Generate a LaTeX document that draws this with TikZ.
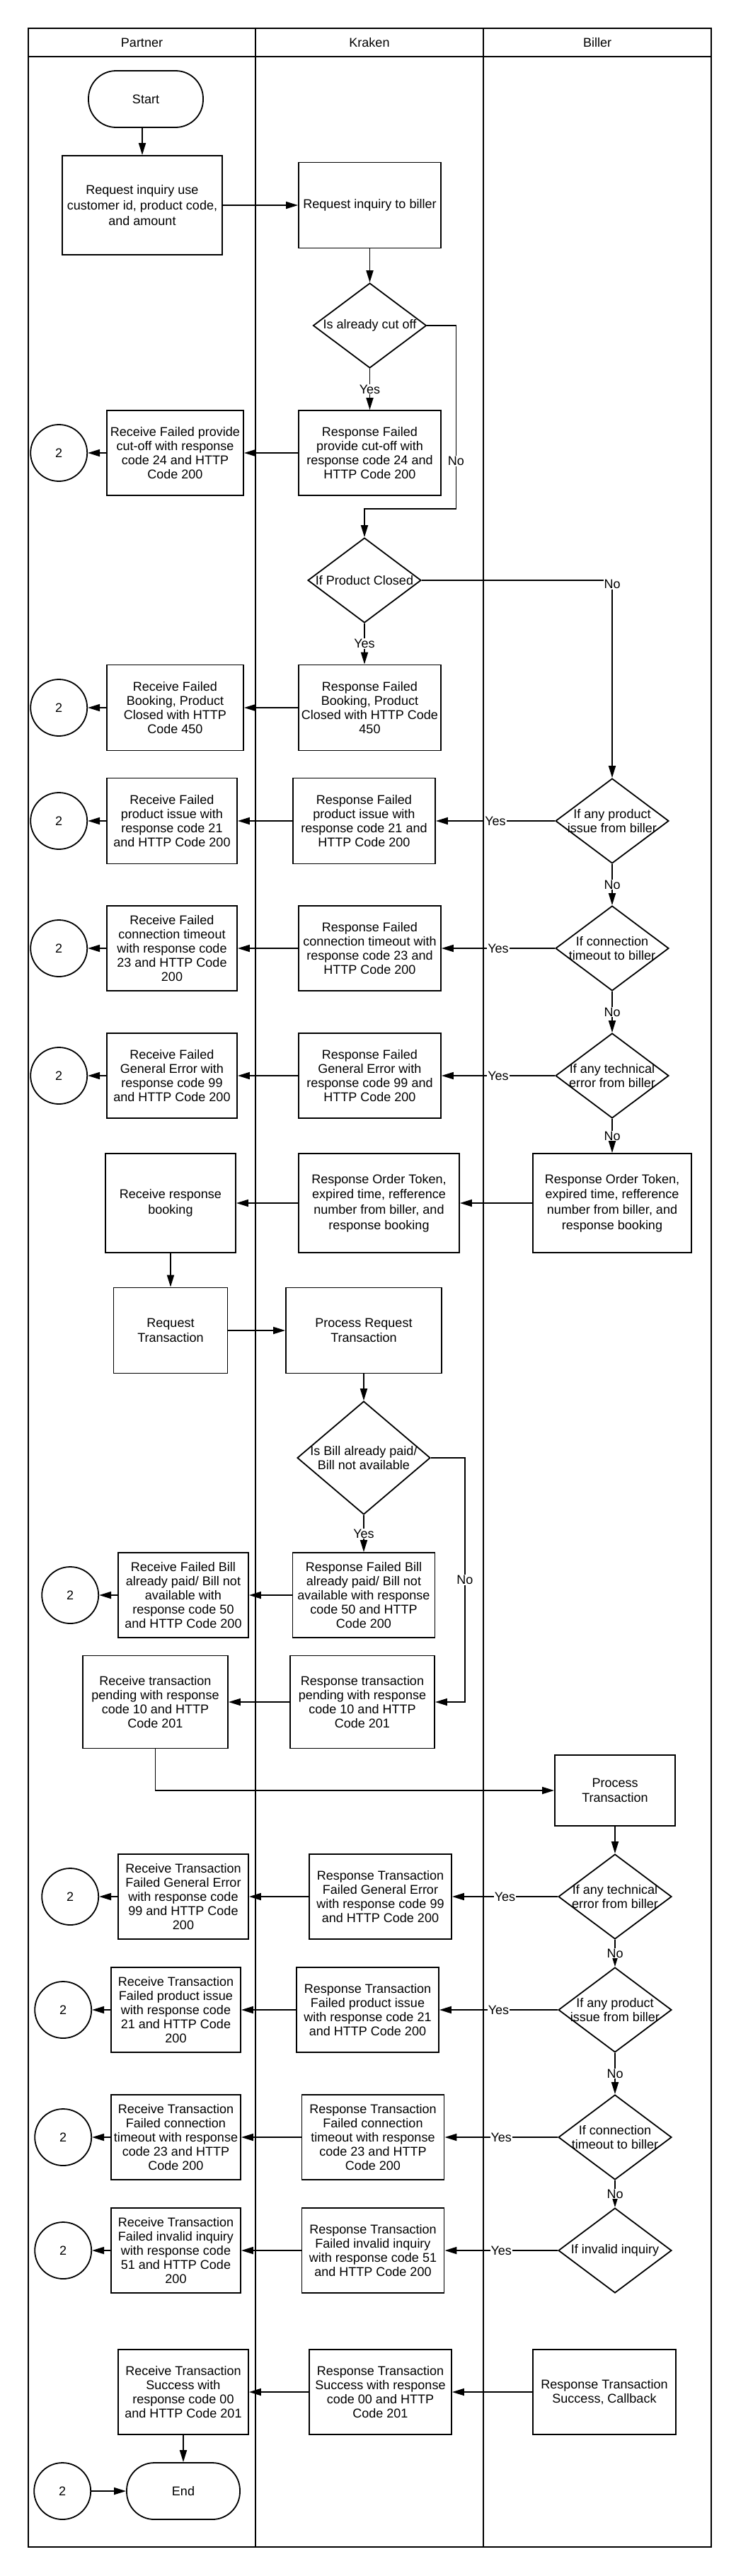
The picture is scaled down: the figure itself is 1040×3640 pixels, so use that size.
\documentclass[tikz,border=0pt]{standalone}
\usepackage{fontspec}
\setmainfont{Liberation Sans}
\usetikzlibrary{positioning, shapes.geometric, arrows.meta}

\begin{document}
\begin{tikzpicture}[x=1pt, y=-1pt, >={Triangle[length=17pt,width=10pt]}, line width=1.8pt, node distance=26pt,
    font=\fontsize{18}{20}\selectfont, every node/.style={align=center},
    box/.style={draw, inner sep=3pt},
    loose/.style={font=\fontsize{18}{21.6}\selectfont},
    kbox/.style={box, minimum width=201pt, minimum height=120pt},
    pbox/.style={box, minimum width=184pt, minimum height=120pt},
    decision/.style={draw, diamond, inner sep=0pt, minimum width=160pt, minimum height=120pt},
    term/.style={draw, rounded corners=39pt, minimum width=162pt, minimum height=80pt},
    jump/.style={draw, circle, inner sep=0pt, minimum size=80pt},
    lbl/.style={fill=white, inner sep=1pt}]
    \fill[white] (0,0) rectangle (1040,3640);
    \useasboundingbox (0,0) rectangle (1040,3640);

    % Swimlanes
    \draw (40,40) rectangle (1005,3599);
    \draw (40,80) -- (1005,80);
    \draw[line width=1.3pt] (361,40) -- (361,3599) (683,40) -- (683,3599);
    \node (partner) at (200.5,60) {Partner};
    \node (kraken) at (522,60) {Kraken};
    \node (biller) at (844,60) {Biller};

    % Inquiry
    \node[term] (start) at (206,140) {Start};
    \node[box, loose, minimum width=226pt, minimum height=140pt] (req) at (201,290) {Request inquiry use\\customer id, product code,\\and amount};
    \node[box, minimum width=201pt, minimum height=121pt] (inqb) at (522.5,290) {Request inquiry to biller};
    \node[decision, label={center:Is already cut off}] (cutoff) at (522.5,460) {};

    % Cut-off
    \node[kbox] (rfcut) at (522.5,640) {Response Failed\\provide cut-off with\\response code 24 and\\HTTP Code 200};
    \node[box, minimum width=193pt, minimum height=120pt] (rcvcut) at (247.5,640) {Receive Failed provide\\cut-off with response\\code 24 and HTTP\\Code 200};
    \node[jump, left=of rcvcut] (j1) {2};

    % Product closed
    \node[decision, label={center:If Product Closed}] (closed) at (515,820) {};
    \node[kbox, minimum height=121pt] (rfbook) at (522.5,1000) {Response Failed\\Booking, Product\\Closed with HTTP Code\\450};
    \node[box, minimum width=193pt, minimum height=121pt] (rcvbook) at (247.5,1000) {Receive Failed\\Booking, Product\\Closed with HTTP\\Code 450};
    \node[jump, left=of rcvbook] (j2) {2};

    % Biller checks on inquiry
    \node[decision, label={center:{If any product\\issue from biller}}] (prod) at (865,1160) {};
    \node[kbox, minimum height=121pt] (rfprod) at (514.5,1160) {Response Failed\\product issue with\\response code 21 and\\HTTP Code 200};
    \node[pbox, minimum height=121pt] (rcvprod) at (243,1160) {Receive Failed\\product issue with\\response code 21\\and HTTP Code 200};
    \node[jump, left=of rcvprod] (j3) {2};

    \node[decision, label={center:{If connection\\timeout to biller}}] (conn) at (865,1340) {};
    \node[kbox] (rfconn) at (522.5,1340) {Response Failed\\connection timeout with\\response code 23 and\\HTTP Code 200};
    \node[pbox] (rcvconn) at (243,1340) {Receive Failed\\connection timeout\\with response code\\23 and HTTP Code\\200};
    \node[jump, left=of rcvconn] (j4) {2};

    \node[decision, label={center:{If any technical\\error from biller}}] (tech) at (865,1520) {};
    \node[kbox] (rfgen) at (522.5,1520) {Response Failed\\General Error with\\response code 99 and\\HTTP Code 200};
    \node[pbox] (rcvgen) at (243,1520) {Receive Failed\\General Error with\\response code 99\\and HTTP Code 200};
    \node[jump, left=of rcvgen] (j5) {2};

    % Booking
    \node[box, loose, minimum width=224pt, minimum height=140pt] (token) at (865,1700) {Response Order Token,\\expired time, refference\\number from biller, and\\response booking};
    \node[box, loose, minimum width=227pt, minimum height=140pt] (ktoken) at (535.5,1700) {Response Order Token,\\expired time, refference\\number from biller, and\\response booking};
    \node[pbox, loose, minimum height=140pt] (rcvresp) at (241,1700) {Receive response\\booking};

    % Transaction request
    \node[box, loose, minimum width=161pt, minimum height=121pt] (reqtx) at (241,1880) {Request\\Transaction};
    \node[box, loose, minimum width=220pt, minimum height=121pt] (procreq) at (514,1880) {Process Request\\Transaction};
    \node[decision, minimum width=188pt, minimum height=160pt, label={center:{Is Bill already paid/\\Bill not available}}] (billq) at (514,2060) {};
    \node[kbox] (rfbill) at (514,2254) {Response Failed Bill\\already paid/ Bill not\\available with response\\code 50 and HTTP\\Code 200};
    \node[pbox] (rcvbill) at (259,2254) {Receive Failed Bill\\already paid/ Bill not\\available with\\response code 50\\and HTTP Code 200};
    \node[jump, left=of rcvbill] (j6) {2};
    \node[box, minimum width=204pt, minimum height=131pt] (rpend) at (512,2405) {Response transaction\\pending with response\\code 10 and HTTP\\Code 201};
    \node[box, minimum width=205pt, minimum height=131pt] (rcvpend) at (219.5,2405) {Receive transaction\\pending with response\\code 10 and HTTP\\Code 201};

    % Biller checks on transaction
    \node[box, loose, minimum width=170pt, minimum height=100pt] (proctx) at (869,2530) {Process\\Transaction};
    \node[decision, label={center:{If any technical\\error from biller}}] (tech2) at (869,2680) {};
    \node[kbox] (rtgen) at (537.5,2680) {Response Transaction\\Failed General Error\\with response code 99\\and HTTP Code 200};
    \node[pbox] (rcvtgen) at (259,2680) {Receive Transaction\\Failed General Error\\with response code\\99 and HTTP Code\\200};
    \node[jump, left=of rcvtgen] (j7) {2};

    \node[decision, label={center:{If any product\\issue from biller}}] (prod2) at (869,2840) {};
    \node[kbox] (rtprod) at (519.5,2840) {Response Transaction\\Failed product issue\\with response code 21\\and HTTP Code 200};
    \node[pbox, minimum width=183pt] (rcvtprod) at (248.5,2840) {Receive Transaction\\Failed product issue\\with response code\\21 and HTTP Code\\200};
    \node[jump, left=of rcvtprod] (j8) {2};

    \node[decision, label={center:{If connection\\timeout to biller}}] (conn2) at (869,3020) {};
    \node[kbox] (rtconn) at (527,3020) {Response Transaction\\Failed connection\\timeout with response\\code 23 and HTTP\\Code 200};
    \node[pbox, minimum width=183pt] (rcvtconn) at (248.5,3020) {Receive Transaction\\Failed connection\\timeout with response\\code 23 and HTTP\\Code 200};
    \node[jump, left=of rcvtconn] (j9) {2};

    \node[decision, label={center:If invalid inquiry}] (inv) at (869,3180) {};
    \node[kbox] (rtinv) at (527,3180) {Response Transaction\\Failed invalid inquiry\\with response code 51\\and HTTP Code 200};
    \node[pbox, minimum width=183pt] (rcvtinv) at (248.5,3180) {Receive Transaction\\Failed invalid inquiry\\with response code\\51 and HTTP Code\\200};
    \node[jump, left=of rcvtinv] (j10) {2};

    % Success
    \node[kbox, minimum width=202pt] (callback) at (854,3380) {Response Transaction\\Success, Callback};
    \node[kbox] (rtsucc) at (537.5,3380) {Response Transaction\\Success with response\\code 00 and HTTP\\Code 201};
    \node[pbox] (rcvtsucc) at (259,3380) {Receive Transaction\\Success with\\response code 00\\and HTTP Code 201};
    \node[term, minimum width=160pt] (finish) at (259,3520) {End};
    \node[jump, left=49pt of finish] (j11) {2};

    % Inquiry flow
    \draw[->] (start.south -| req.north) -- (req.north);
    \draw[->] (req) -- (inqb);
    \draw[->] (inqb) -- (cutoff);
    \draw[->] (cutoff) -- node[lbl]{Yes} (rfcut);
    \draw[->] (cutoff.east) -- ++(41,0) -- node[lbl, pos=0.74]{No} ++(0,259) -| (closed.north);
    \draw[->] (rfcut) -- (rcvcut);
    \draw[->] (rcvcut) -- (j1);
    \draw[->] (closed.south) -- node[lbl]{Yes} (closed.south |- rfbook.north);
    \draw[->] (closed.east) -| node[lbl, pos=0.51]{No} (prod.north);
    \draw[->] (rfbook) -- (rcvbook);
    \draw[->] (rcvbook) -- (j2);
    \draw[->] (prod) -- node[lbl]{Yes} (rfprod);
    \draw[->] (rfprod) -- (rcvprod);
    \draw[->] (rcvprod) -- (j3);
    \draw[->] (prod) -- node[lbl]{No} (conn);
    \draw[->] (conn) -- node[lbl]{Yes} (rfconn);
    \draw[->] (rfconn) -- (rcvconn);
    \draw[->] (rcvconn) -- (j4);
    \draw[->] (conn) -- node[lbl]{No} (tech);
    \draw[->] (tech) -- node[lbl]{Yes} (rfgen);
    \draw[->] (rfgen) -- (rcvgen);
    \draw[->] (rcvgen) -- (j5);
    \draw[->] (tech) -- node[lbl]{No} (token);
    \draw[->] (token) -- (ktoken);
    \draw[->] (ktoken) -- (rcvresp);

    % Transaction flow
    \draw[->] (rcvresp) -- (rcvresp |- reqtx.north);
    \draw[->] (reqtx) -- (procreq);
    \draw[->] (procreq) -- (billq);
    \draw[->] (billq) -- node[lbl]{Yes} (rfbill);
    \draw[->] (billq.east) -- ++(48,0) |- node[lbl, pos=0.25]{No} (rpend.east);
    \draw[->] (rfbill) -- (rcvbill);
    \draw[->] (rcvbill) -- (j6);
    \draw[->] (rpend) -- (rcvpend);
    \draw[->] (rcvpend.south) |- (proctx.west);
    \draw[->] (proctx) -- (tech2);
    \draw[->] (tech2) -- node[lbl]{Yes} (rtgen);
    \draw[->] (rtgen) -- (rcvtgen);
    \draw[->] (rcvtgen) -- (j7);
    \draw[->] (tech2) -- node[lbl]{No} (prod2);
    \draw[->] (prod2) -- node[lbl]{Yes} (rtprod);
    \draw[->] (rtprod) -- (rcvtprod);
    \draw[->] (rcvtprod) -- (j8);
    \draw[->] (prod2) -- node[lbl]{No} (conn2);
    \draw[->] (conn2) -- node[lbl]{Yes} (rtconn);
    \draw[->] (rtconn) -- (rcvtconn);
    \draw[->] (rcvtconn) -- (j9);
    \draw[->] (conn2) -- node[lbl]{No} (inv);
    \draw[->] (inv) -- node[lbl]{Yes} (rtinv);
    \draw[->] (rtinv) -- (rcvtinv);
    \draw[->] (rcvtinv) -- (j10);
    \draw[->] (callback) -- (rtsucc);
    \draw[->] (rtsucc) -- (rcvtsucc);
    \draw[->] (rcvtsucc) -- (finish);
    \draw[->] (j11) -- (finish);
\end{tikzpicture}
\end{document}
